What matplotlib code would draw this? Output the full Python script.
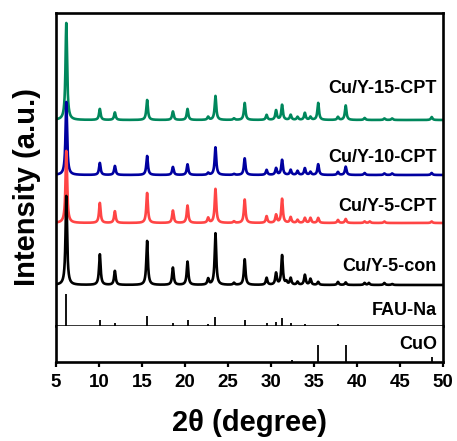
import matplotlib
matplotlib.use('Agg')
import matplotlib.pyplot as plt
import numpy as np

plt.rcParams['font.family'] = ['Liberation Sans', 'DejaVu Sans']
plt.rcParams['font.weight'] = 'bold'

# peak positions (2theta, degree) and heights (a.u.)
pos_15 = [6.2, 10.1, 11.85, 15.6, 18.6, 20.3, 22.7, 23.55, 25.7, 26.95, 29.5, 30.6, 31.3, 32.3, 33.1, 33.95, 34.6, 35.5, 37.8, 38.7, 40.9, 43.2, 44.1, 48.7]
int_15 = [97, 11, 7.5, 20, 8.5, 11, 3, 24, 1.5, 17, 5, 9.5, 15, 5, 3, 7, 3, 17, 3, 14.5, 2, 1.5, 1.5, 3]

pos_10 = [6.2, 10.1, 11.85, 15.6, 18.6, 20.3, 22.7, 23.55, 25.7, 26.95, 29.5, 30.6, 31.3, 32.3, 33.1, 33.95, 34.6, 35.5, 37.8, 38.7, 40.9, 43.2, 44.1, 48.7]
int_10 = [73, 12, 9, 19, 8, 10.6, 2, 27.6, 1, 16.6, 5, 6.7, 15, 5, 4, 6.7, 3, 10.7, 3, 8.3, 2, 1.5, 1.5, 2]

pos_5 = [6.2, 10.1, 11.85, 15.6, 18.6, 20.3, 22.7, 23.55, 25.7, 26.95, 29.5, 30.6, 31.3, 32.3, 33.1, 33.95, 34.6, 35.5, 37.8, 38.7, 40.9, 41.5, 43.2, 48.7]
int_5 = [72, 20, 11.7, 30, 12.4, 17.4, 5, 34, 1.5, 23.4, 6.7, 8, 24, 5.7, 3, 5, 5, 5, 3, 4, 1.5, 1.5, 1.5, 1.5]

pos_con = [6.2, 10.1, 11.85, 15.6, 18.6, 20.3, 22.7, 23.55, 25.7, 26.95, 29.5, 30.6, 31.3, 31.8, 32.3, 33.1, 33.95, 34.6, 35.5, 37.8, 38.7, 40.9, 41.4, 43.2, 44.1]
int_con = [89, 30.6, 14, 44, 17.3, 23.3, 6, 51.6, 2, 25.6, 7, 11.7, 29.4, 3, 6.7, 3, 10, 6, 3, 3, 2.5, 2, 2, 2, 1]

fau_pos = [6.2, 10.1, 11.85, 15.6, 18.6, 20.3, 22.7, 23.55, 26.95, 29.5, 30.6, 31.3, 32.3, 33.95, 37.8]
fau_int = [32.4, 6, 3.4, 9.7, 3.4, 6, 2, 9, 6, 3, 4, 8, 2.5, 2, 1.5]

cuo_pos = [32.5, 35.5, 38.7, 48.7]
cuo_int = [2, 16.6, 16.6, 4.6]

labels = ['Cu/Y-15-CPT', 'Cu/Y-10-CPT', 'Cu/Y-5-CPT', 'Cu/Y-5-con']
colors = ['#00875c', '#0000a0', '#ff4545', 'black']
offsets = [206, 151, 103, 41]
label_y = [238, 168, 119, 59]

x = np.linspace(5, 50, 6000)


def profile(pos, heights, w=0.11):
	y = np.zeros_like(x)
	for p, h in zip(pos, heights):
		y += h * w ** 2 / ((x - p) ** 2 + w ** 2)
	return y


fig = plt.figure(figsize=(4.57, 4.41), dpi=100)
ax = fig.add_axes([0.1225, 0.2608, 0.8465, 0.7097])
ax2 = fig.add_axes([0.1225, 0.1790, 0.8465, 0.0818])

patterns = [(pos_15, int_15), (pos_10, int_10), (pos_5, int_5), (pos_con, int_con)]
for (p, h), c, off, lab, ly in zip(patterns, colors, offsets, labels, label_y):
	ax.plot(x, profile(p, h) + off, color=c, lw=1.9)
	ax.text(49.3, ly, lab, ha='right', va='center', fontsize=13, fontweight='bold')

ax.vlines(fau_pos, 0, fau_int, color='black', lw=1.3)
ax.text(49.3, 15, 'FAU-Na', ha='right', va='center', fontsize=13, fontweight='bold')

ax2.vlines(cuo_pos, 0, cuo_int, color='black', lw=1.3)
ax2.text(49.3, 18, 'CuO', ha='right', va='center', fontsize=13, fontweight='bold')

ax.set_xlim(5, 50)
ax.set_ylim(0, 313)
ax.set_xticks([])
ax.set_yticks([])
ax2.set_xlim(5, 50)
ax2.set_ylim(0, 36)
ax2.set_yticks([])
ax2.set_xticks(np.arange(5, 51, 5))
ax2.tick_params(axis='x', direction='out', length=3.5, width=1.6, labelsize=13.5, pad=5)
for t in ax2.get_xticklabels():
	t.set_fontweight('bold')

for a in (ax, ax2):
	for s in a.spines.values():
		s.set_linewidth(1.9)
ax.spines['bottom'].set_linewidth(1.1)
ax2.spines['top'].set_visible(False)

ax2.set_xlabel('2θ (degree)', fontsize=21, fontweight='bold', labelpad=13)
fig.text(0.058, 0.575, 'Intensity (a.u.)', rotation=90, ha='center', va='center', fontsize=21, fontweight='bold')

plt.savefig('out.png', dpi=100)
